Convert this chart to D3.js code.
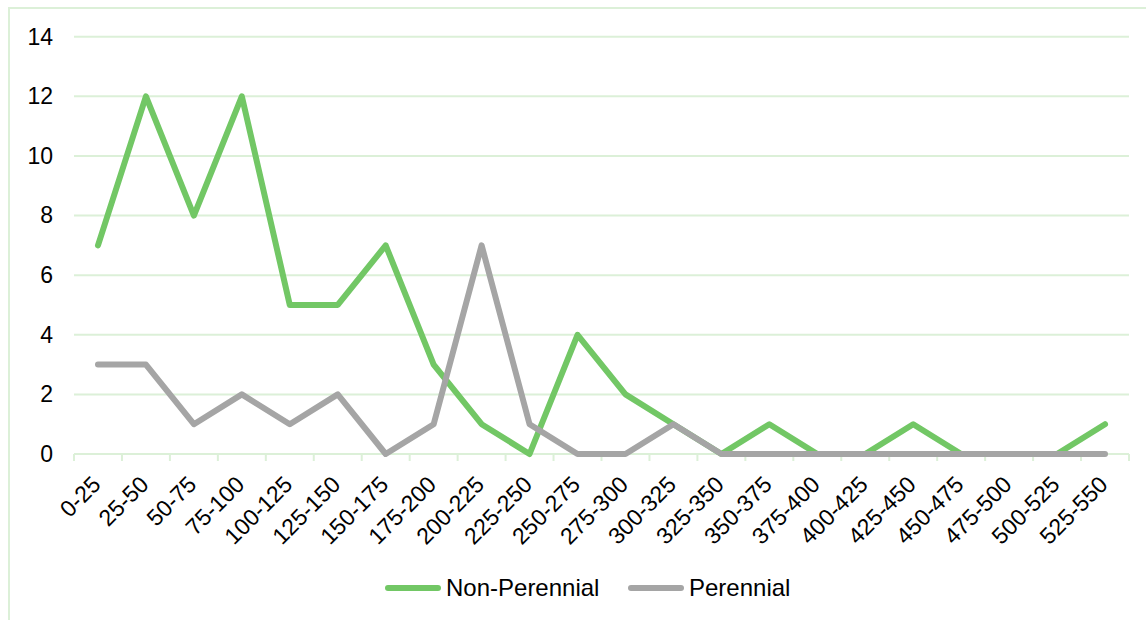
<!DOCTYPE html>
<html>
<head>
<meta charset="utf-8">
<script src="https://cdn.jsdelivr.net/npm/d3@7/dist/d3.min.js"></script>
<style>
  html, body { margin: 0; padding: 0; background: #fff; }
  svg { display: block; font-family: "Liberation Sans", Arial, sans-serif; }
</style>
</head>
<body>
<svg id="chart" width="1146" height="620"></svg>
<script>
// Length classes (bins of 25)
const categories = ["0-25","25-50","50-75","75-100","100-125","125-150","150-175","175-200",
  "200-225","225-250","250-275","275-300","300-325","325-350","350-375","375-400",
  "400-425","425-450","450-475","475-500","500-525","525-550"];
const nonPerennial = [7,12,8,12,5,5,7,3,1,0,4,2,1,0,1,0,0,1,0,0,0,1];
const perennial    = [3,3,1,2,1,2,0,1,7,1,0,0,1,0,0,0,0,0,0,0,0,0];
const yTicks = [0,2,4,6,8,10,12,14];
const seriesNames = ["Non-Perennial","Perennial"];
const seriesColors = ["#72C765","#A5A5A5"];

const svg = d3.select("#chart");
const gridColor = "#DCF0D8";
const margin = { left: 74, right: 1129, top: 36.7, bottom: 454 };

// outer frame
svg.append("rect")
  .attr("x", 9).attr("y", 8)
  .attr("width", 1160).attr("height", 640)
  .attr("fill", "none").attr("stroke", gridColor).attr("stroke-width", 2);

const x = d3.scaleBand().domain(categories).range([margin.left, margin.right]).padding(0);
const y = d3.scaleLinear().domain([0, 14]).range([margin.bottom, margin.top]);

// horizontal gridlines
svg.append("g").selectAll("line").data(yTicks.filter(d => d > 0)).join("line")
  .attr("x1", margin.left).attr("x2", margin.right)
  .attr("y1", d => y(d)).attr("y2", d => y(d))
  .attr("stroke", gridColor).attr("stroke-width", 2);

// y axis labels
const yAxis = d3.axisLeft(y).tickValues(yTicks).tickSize(0).tickPadding(0);
const gy = svg.append("g").attr("transform", `translate(${margin.left - 21},0)`).call(yAxis);
gy.select(".domain").remove();
gy.selectAll("text").attr("font-size", 23).attr("fill", "#000")
  .attr("font-family", "Liberation Sans, Arial, sans-serif");

// x axis baseline with boundary ticks
const gx = svg.append("g");
gx.append("line")
  .attr("x1", margin.left).attr("x2", margin.right)
  .attr("y1", y(0)).attr("y2", y(0))
  .attr("stroke", gridColor).attr("stroke-width", 2);
const boundaries = categories.map(c => x(c)).concat([margin.right]);
gx.selectAll("line.tick").data(boundaries).join("line")
  .attr("class", "tick")
  .attr("x1", d => d).attr("x2", d => d)
  .attr("y1", y(0)).attr("y2", y(0) + 7)
  .attr("stroke", gridColor).attr("stroke-width", 2);

// rotated category labels
gx.selectAll("text").data(categories).join("text")
  .attr("transform", d => `translate(${x(d) + x.bandwidth() / 2 + 4},${y(0) + 32}) rotate(-45)`)
  .attr("text-anchor", "end")
  .attr("font-size", 23)
  .attr("fill", "#000")
  .text(d => d);

// series lines (green first, grey drawn on top)
const line = d3.line()
  .x((d, i) => x(categories[i]) + x.bandwidth() / 2)
  .y(d => y(d));

[nonPerennial, perennial].forEach((vals, k) => {
  svg.append("path")
    .datum(vals)
    .attr("fill", "none")
    .attr("stroke", seriesColors[k])
    .attr("stroke-width", 6)
    .attr("stroke-linejoin", "round")
    .attr("stroke-linecap", "round")
    .attr("d", line);
});

// legend
const legendItems = [
  { name: seriesNames[0], color: seriesColors[0], x: 385 },
  { name: seriesNames[1], color: seriesColors[1], x: 628 }
];
const lg = svg.append("g");
legendItems.forEach(it => {
  lg.append("line")
    .attr("x1", it.x + 3).attr("x2", it.x + 53)
    .attr("y1", 588).attr("y2", 588)
    .attr("stroke", it.color).attr("stroke-width", 6)
    .attr("stroke-linecap", "round");
  lg.append("text")
    .attr("x", it.x + 61).attr("y", 596)
    .attr("font-size", 24).attr("fill", "#000")
    .text(it.name);
});
</script>
</body>
</html>
